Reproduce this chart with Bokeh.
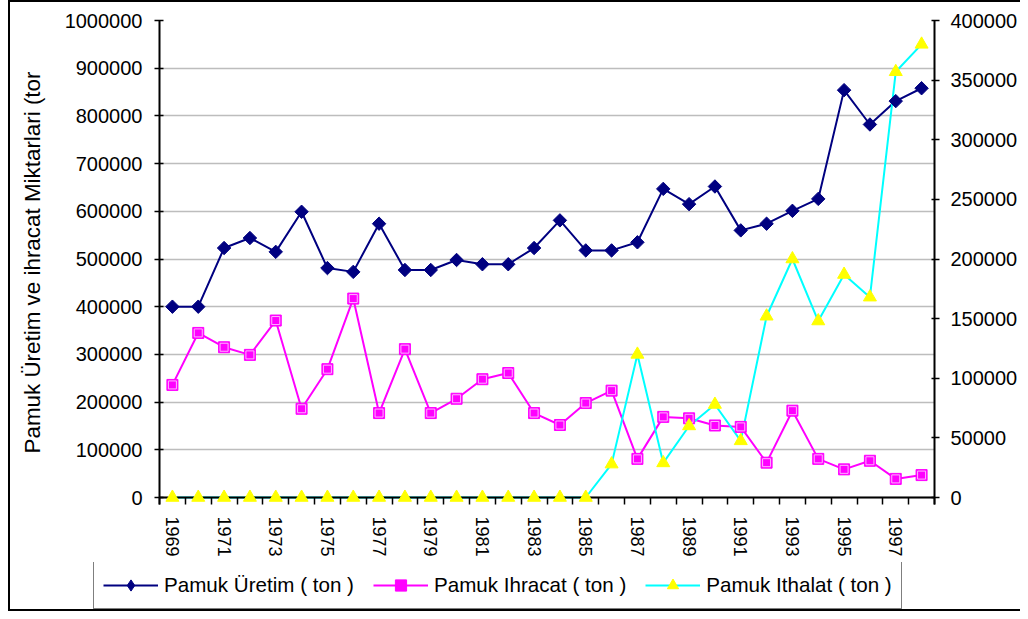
import numpy as np
from bokeh.plotting import figure
from bokeh.layouts import column, row
from bokeh.models import (Range1d, LinearAxis, FixedTicker, BasicTickFormatter,
                          Legend, LegendItem, Span)
from bokeh.embed import file_html
from bokeh.resources import INLINE

years = list(range(1969, 1999))
uretim = [400000, 400000, 523000, 544000, 515000, 599000, 481000, 473000, 574000, 477000,
          477000, 498000, 489000, 489000, 523000, 581000, 518000, 518000, 535000, 647000,
          615000, 652000, 560000, 574000, 601000, 626000, 854000, 782000, 831000, 858000]
ihracat = [236000, 345000, 315000, 299000, 371000, 186000, 269000, 417000, 177000, 311000,
           177000, 207000, 248000, 261000, 177000, 152000, 198000, 224000, 81000, 169000,
           166000, 151000, 148000, 73000, 182000, 81000, 59000, 77000, 39000, 47000]
ithalat = [0, 0, 0, 0, 0, 0, 0, 0, 0, 0,
           0, 0, 0, 0, 0, 0, 0, 28000, 120000, 29000,
           60000, 78000, 47500, 152000, 200000, 148000, 187000, 168000, 357000, 380000]

left_ticks = [0, 100000, 200000, 300000, 400000, 500000, 600000, 700000, 800000, 900000, 1000000]
right_ticks = [0, 50000, 100000, 150000, 200000, 250000, 300000, 350000, 400000]
year_labels = [1969, 1971, 1973, 1975, 1977, 1979, 1981, 1983, 1985, 1987, 1989, 1991, 1993, 1995, 1997]
series_names = ["Pamuk Üretim ( ton )", "Pamuk Ihracat ( ton )", "Pamuk Ithalat ( ton )"]
y_title = "Pamuk Üretim ve ihracat Miktarlari (tor"

FONT = "Liberation Sans"
navy = "#000080"
mag = "#FF00FF"
cyan = "#00FFFF"
yel = "#FFFF00"

W = 1020
H_MAIN, H_LEG = 562, 49
TOP, BOTTOM, LEFT, RIGHT = 20, 58, 159, 86
FRAME_H = H_MAIN - TOP - BOTTOM
PAD_PX = 7  # room below the zero line so the markers on it are not cut

lo_left = -left_ticks[-1] * PAD_PX / (FRAME_H - PAD_PX)
lo_right = -right_ticks[-1] * PAD_PX / (FRAME_H - PAD_PX)

LINE = "linear-gradient(#000,#000)"

p = figure(width=W, height=H_MAIN, output_backend="svg", toolbar_location=None,
           x_range=Range1d(years[0] - 0.5, years[-1] + 0.5),
           y_range=Range1d(lo_left, left_ticks[-1]),
           min_border_left=LEFT, min_border_right=RIGHT, min_border_top=TOP,
           min_border_bottom=BOTTOM)
p.extra_y_ranges = {"right": Range1d(lo_right, right_ticks[-1])}
p.outline_line_color = None
p.background_fill_color = None
p.border_fill_color = None
p.styles = {"background": (f"{LINE} 8px 0 / 2px 100% no-repeat, "
                           f"{LINE} 8px 0 / calc(100% - 8px) 2px no-repeat, #ffffff")}

# x axis (category-style: labels on odd years, ticks between years)
boundaries = [y - 0.5 for y in years] + [years[-1] + 0.5]
xa = p.xaxis[0]
xa.ticker = FixedTicker(ticks=year_labels, minor_ticks=boundaries)
xa.major_tick_line_color = None
xa.major_tick_in = 0
xa.major_tick_out = 0
xa.minor_tick_line_color = "black"
xa.minor_tick_line_width = 1.5
xa.minor_tick_in = PAD_PX
xa.minor_tick_out = 0
xa.major_label_orientation = "vertical"
xa.major_label_standoff = 12
xa.major_label_text_font = FONT
xa.major_label_text_font_size = "18px"
xa.major_label_text_color = "black"
xa.axis_line_color = None

# zero line acting as the category axis line
p.add_layout(Span(location=0, dimension="width", line_color="black", line_width=2))

# left axis
ya = p.yaxis[0]
ya.ticker = FixedTicker(ticks=left_ticks)
ya.formatter = BasicTickFormatter(use_scientific=False)
ya.major_tick_in = 4
ya.major_tick_out = 5
ya.major_tick_line_width = 1.5
ya.major_tick_line_color = "black"
ya.minor_tick_line_color = None
ya.major_label_standoff = 12
ya.major_label_text_font = FONT
ya.major_label_text_font_size = "20px"
ya.major_label_text_color = "black"
ya.axis_line_color = "black"
ya.axis_line_width = 2
ya.axis_label = y_title
ya.axis_label_text_font = FONT
ya.axis_label_text_font_size = "22.4px"
ya.axis_label_text_font_style = "normal"
ya.axis_label_text_color = "black"
ya.axis_label_standoff = 17

# right axis
ra = LinearAxis(y_range_name="right", ticker=FixedTicker(ticks=right_ticks),
                formatter=BasicTickFormatter(use_scientific=False))
ra.major_tick_in = 3
ra.major_tick_out = 5
ra.major_tick_line_width = 1.5
ra.major_tick_line_color = "black"
ra.minor_tick_line_color = None
ra.major_label_standoff = 11
ra.major_label_text_font = FONT
ra.major_label_text_font_size = "20px"
ra.major_label_text_color = "black"
ra.axis_line_color = "black"
ra.axis_line_width = 2
p.add_layout(ra, "right")

p.xgrid.grid_line_color = None
p.ygrid.ticker = FixedTicker(ticks=left_ticks)
p.ygrid.grid_line_color = "#bdbdbd"
p.ygrid.grid_line_width = 1.5


def draw_series(fig, xs, u, ih, it, legend_strip=False):
    a = fig.line(xs, u, line_color=navy, line_width=2)
    if legend_strip:
        b = fig.scatter(xs, u, marker="diamond", size=15,
                        fill_color=navy, line_color=navy, level="overlay")
    else:
        b = fig.scatter(xs, u, marker="square", angle=np.pi / 4, size=9.5,
                        fill_color=navy, line_color=navy, level="overlay")
    c = fig.line(xs, ih, line_color=mag, line_width=2)
    d = fig.scatter(xs, ih, marker="square", size=11, fill_color=mag, line_color=mag,
                    level="overlay")
    fig.scatter(xs, ih, marker="square", size=8, fill_color=None, line_color="#ffb3ff",
                line_width=1, level="overlay")
    kw = {"y_range_name": "right"} if "right" in fig.extra_y_ranges else {}
    e = fig.line(xs, it, line_color=cyan, line_width=2, **kw)
    f = fig.scatter(xs, it, marker="triangle", size=13, fill_color=yel, line_color=yel,
                    level="overlay", **kw)
    return (a, b), (c, d), (e, f)


draw_series(p, years, uretim, ihracat, ithalat)

# legend strip below the chart
q = figure(width=W, height=H_LEG, output_backend="svg", toolbar_location=None,
           x_range=Range1d(0, 1), y_range=Range1d(0, 1),
           x_axis_location=None, y_axis_location=None, min_border=0)
q.grid.visible = False
q.outline_line_color = None
q.background_fill_color = None
q.border_fill_color = None
q.styles = {"background": (f"{LINE} 8px 0 / 2px 100% no-repeat, "
                           f"{LINE} 8px 100% / calc(100% - 8px) 2px no-repeat, #ffffff")}
# same series in the strip (outside its 0..1 ranges, so only their legend glyphs show)
pairs = draw_series(q, years, uretim, ihracat, ithalat, legend_strip=True)
legend = Legend(items=[LegendItem(label=series_names[i], renderers=list(pairs[i]))
                       for i in range(3)],
                location=(93, 2), orientation="horizontal")
legend.border_line_color = "black"
legend.border_line_width = 1.5
legend.background_fill_color = "white"
legend.background_fill_alpha = 1
legend.padding = 9
legend.spacing = 19
legend.margin = 0
legend.glyph_width = 55
legend.glyph_height = 28
legend.label_standoff = 6
legend.label_text_font = FONT
legend.label_text_font_size = "20.6px"
legend.label_text_color = "black"
q.add_layout(legend)

layout = column(p, row(q, spacing=0), spacing=0)
open("out.html", "w").write(file_html(layout, INLINE))
